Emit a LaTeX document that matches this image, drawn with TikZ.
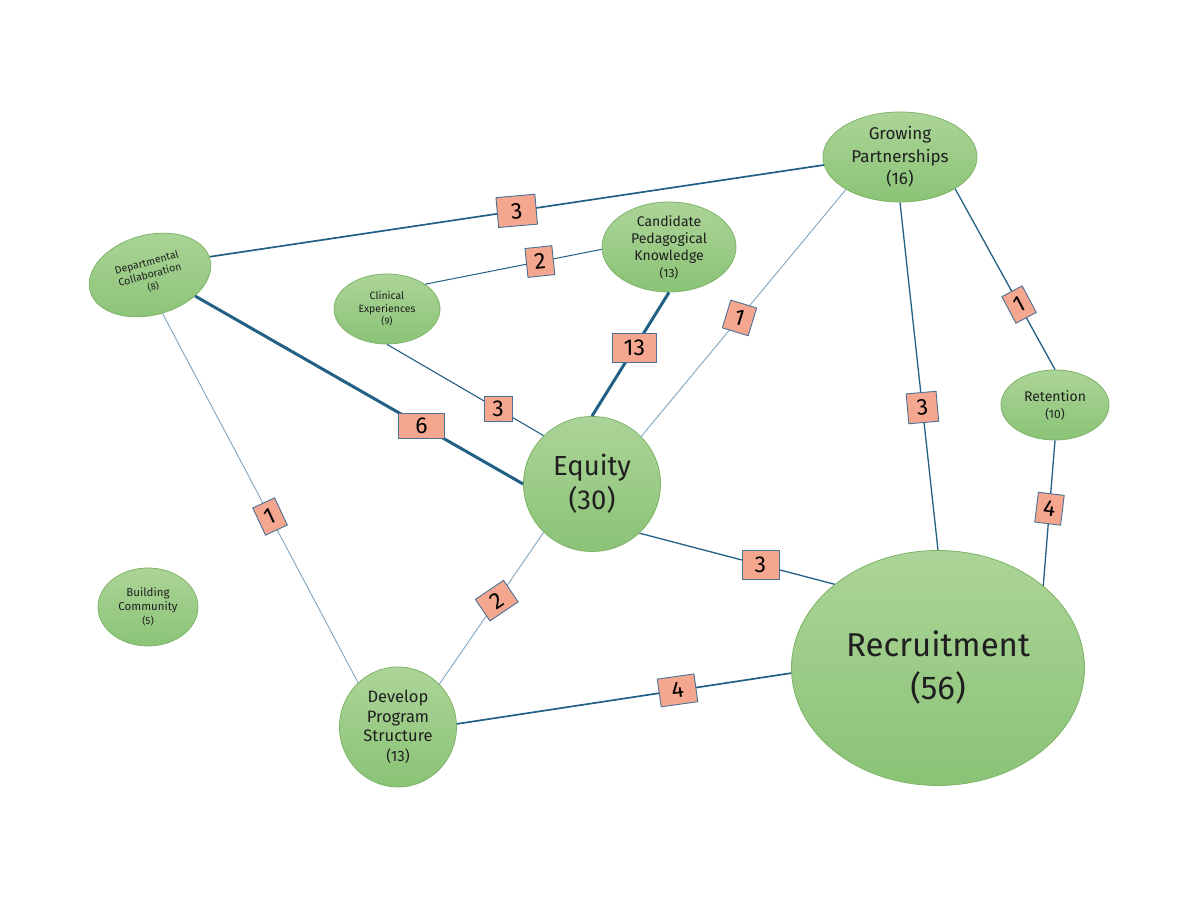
\documentclass[tikz,border=0pt]{standalone}
\usepackage{fontspec}
\setmainfont{Fira Sans}
\usetikzlibrary{shapes.geometric}
\definecolor{edgeblue}{RGB}{34,96,134}
\definecolor{edgelight}{RGB}{130,165,192}
\definecolor{gtop}{RGB}{172,212,152}
\definecolor{gbot}{RGB}{138,195,118}
\definecolor{gline}{RGB}{126,180,104}
\definecolor{salmon}{RGB}{244,167,142}
\definecolor{boxline}{RGB}{74,112,150}
\tikzset{
  topic/.style={ellipse, draw=gline, line width=0.8pt, top color=gtop, bottom color=gbot,
    inner sep=-12pt, align=center, text=black!88},
  link/.style={draw=edgeblue, line width=1.3pt},
  thinlink/.style={draw=edgelight, line width=0.9pt},
  midlink/.style={draw=edgeblue, line width=1.7pt},
  thicklink/.style={draw=edgeblue, line width=3pt},
  wbox/.style={draw=boxline, line width=0.9pt, fill=salmon, inner sep=0pt,
    font=\fontsize{23}{23}\selectfont, text=black},
}
\begin{document}
\begin{tikzpicture}[x=1pt,y=1pt]
\useasboundingbox (0,0) rectangle (1200,900);
\fill[white] (0,0) rectangle (1200,900);

% topics
\node[topic, minimum width=154pt, minimum height=90pt, font=\fontsize{17}{22.5}\selectfont] (GP) at (900,743)
  {Growing\\Partnerships\\(16)};
\node[topic, minimum width=134pt, minimum height=90pt, font=\fontsize{14}{17}\selectfont] (CPK) at (669,653)
  {Candidate\\Pedagogical\\Knowledge\\{\fontsize{12}{17}\selectfont(13)}};
\node[topic, rotate=15, minimum width=124pt, minimum height=80pt, font=\fontsize{10.5}{12.5}\selectfont] (DC) at (150,625)
  {Departmental\\Collaboration\\{\fontsize{9.5}{12.5}\selectfont(8)}};
\node[topic, minimum width=106pt, minimum height=70pt, font=\fontsize{10.5}{12.5}\selectfont] (CE) at (387,591)
  {Clinical\\Experiences\\{\fontsize{9.5}{12.5}\selectfont(9)}};
\node[topic, minimum width=108pt, minimum height=70pt, font=\fontsize{14}{17}\selectfont] (RET) at (1055,495)
  {Retention\\{\fontsize{12}{17}\selectfont(10)}};
\node[topic, minimum width=137pt, minimum height=135pt, font=\fontsize{27.5}{34}\selectfont] (EQ) at (592,416)
  {Equity\\(30)};
\node[topic, minimum width=100pt, minimum height=78pt, font=\fontsize{11.5}{14}\selectfont] (BC) at (148,293)
  {Building\\Community\\{\fontsize{10}{14}\selectfont(5)}};
\node[topic, minimum width=117pt, minimum height=120pt, font=\fontsize{16.5}{19.5}\selectfont] (DPS) at (398,173)
  {Develop\\Program\\Structure\\{\fontsize{15}{19.5}\selectfont(13)}};
\node[topic, minimum width=293pt, minimum height=235pt, font=\fontsize{33}{43}\selectfont] (REC) at (938,232)
  {Recruitment\\(56)};

% connectors
\draw[midlink] (DC.2) -- (GP.186)
  node[wbox, pos=0.5, rotate=5, minimum width=39pt, minimum height=30pt] {3};
\draw[link, line width=1pt] (CE.33) -- (CPK.182)
  node[wbox, pos=0.65, rotate=6, minimum width=27pt, minimum height=29pt] {2};
\draw[thicklink] (CPK.south) -- (EQ.north)
  node[wbox, pos=0.45, minimum width=44pt, minimum height=29pt] {13};
\draw[thicklink] (DC.-40) -- (EQ.west)
  node[wbox, pos=0.69, minimum width=46pt, minimum height=25pt] {6};
\draw[link, line width=1.1pt] (CE.south) -- (EQ.135)
  node[wbox, pos=0.71, minimum width=28pt, minimum height=25pt] {3};
\draw[thinlink] (GP.211) -- (EQ.44)
  node[wbox, pos=0.52, rotate=-17, minimum width=27pt, minimum height=29pt] {1};
\draw[link] (GP.south) -- (REC.north)
  node[wbox, pos=0.59, rotate=5, minimum width=30pt, minimum height=30pt] {3};
\draw[link] (GP.-30) -- (RET.north)
  node[wbox, pos=0.64, rotate=28, minimum width=23pt, minimum height=30pt] {1};
\draw[link] (RET.south) -- (REC.38)
  node[wbox, pos=0.47, rotate=-7, minimum width=26pt, minimum height=30pt] {4};
\draw[link] (EQ.-46) -- (REC.141)
  node[wbox, pos=0.62, minimum width=37pt, minimum height=29pt] {3};
\draw[thinlink] (DC.-87) -- (DPS.132)
  node[wbox, pos=0.55, rotate=25, minimum width=24pt, minimum height=30pt] {1};
\draw[thinlink] (EQ.225) -- (DPS.46)
  node[wbox, pos=0.45, rotate=34, minimum width=34pt, minimum height=26pt] {2};
\draw[midlink] (DPS.3) -- (REC.182)
  node[wbox, pos=0.66, rotate=8, minimum width=37pt, minimum height=28pt] {4};
\end{tikzpicture}
\end{document}
